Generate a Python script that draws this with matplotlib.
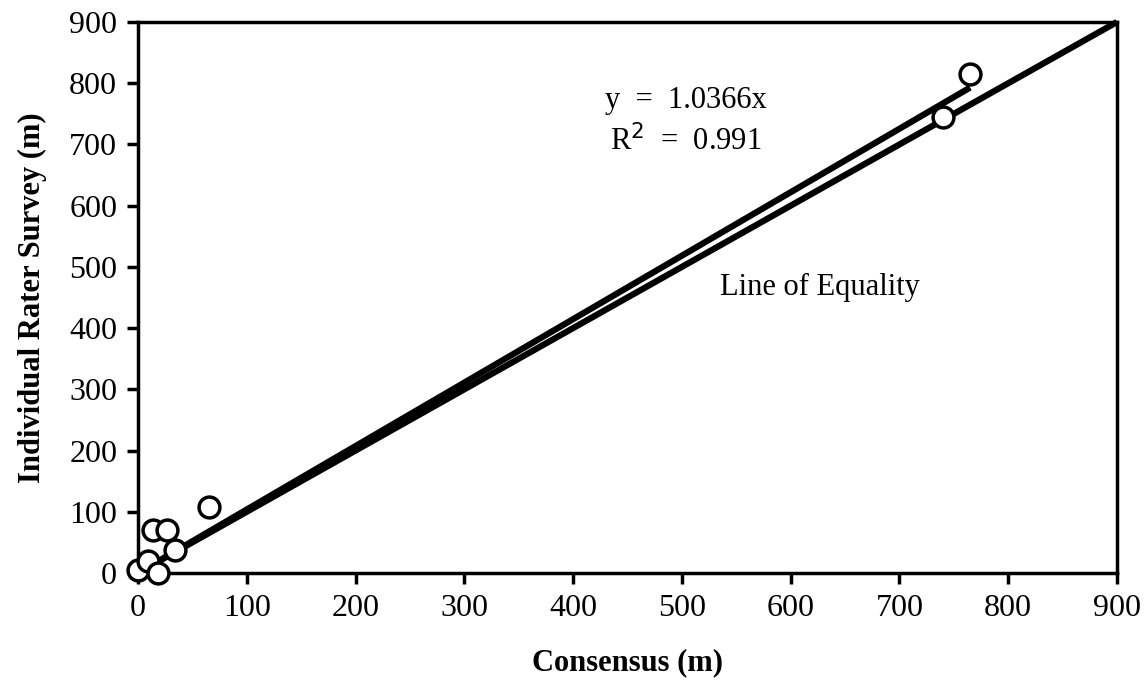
import numpy as np
import matplotlib.pyplot as plt

plt.rcParams["font.family"] = ["Liberation Serif", "DejaVu Serif"]

consensus = [0, 9, 18, 34, 14, 27, 65, 740, 765]
rater = [5, 20, 0, 38, 70, 70, 108, 745, 815]
slope = 1.0366
ticks = [0, 100, 200, 300, 400, 500, 600, 700, 800, 900]

fig = plt.figure(figsize=(11.48, 6.99), dpi=100)
ax = fig.add_axes([0.1202, 0.1803, 0.8528, 0.7882])

# line of equality
ax.plot([0, 900], [0, 900], color="black", lw=4.5, solid_capstyle="butt", clip_on=False, zorder=2)
# regression through origin
xr = np.array([0, max(consensus)])
ax.plot(xr, slope * xr, color="black", lw=4.5, solid_capstyle="butt", zorder=2)

ax.plot(consensus, rater, "o", ms=15, mfc="white", mec="black", mew=2.5, clip_on=False, zorder=3)

ax.text(504, 771, "y  =  1.0366x", ha="center", va="center", fontsize=22)
ax.text(504, 706, "R$^2$  =  0.991", ha="center", va="center", fontsize=22)
ax.text(627, 467, "Line of Equality", ha="center", va="center", fontsize=22)

ax.set_xlim(0, 900)
ax.set_ylim(0, 900)
ax.set_xticks(ticks)
ax.set_yticks(ticks)
ax.tick_params(direction="out", length=8, width=2.5, labelsize=23, pad=7)
for s in ax.spines.values():
    s.set_linewidth(2.5)

ax.set_xlabel("Consensus (m)", fontsize=22, fontweight="bold", labelpad=18)
ax.set_ylabel("Individual Rater Survey (m)", fontsize=22, fontweight="bold", labelpad=16)

fig.savefig("out.png")
